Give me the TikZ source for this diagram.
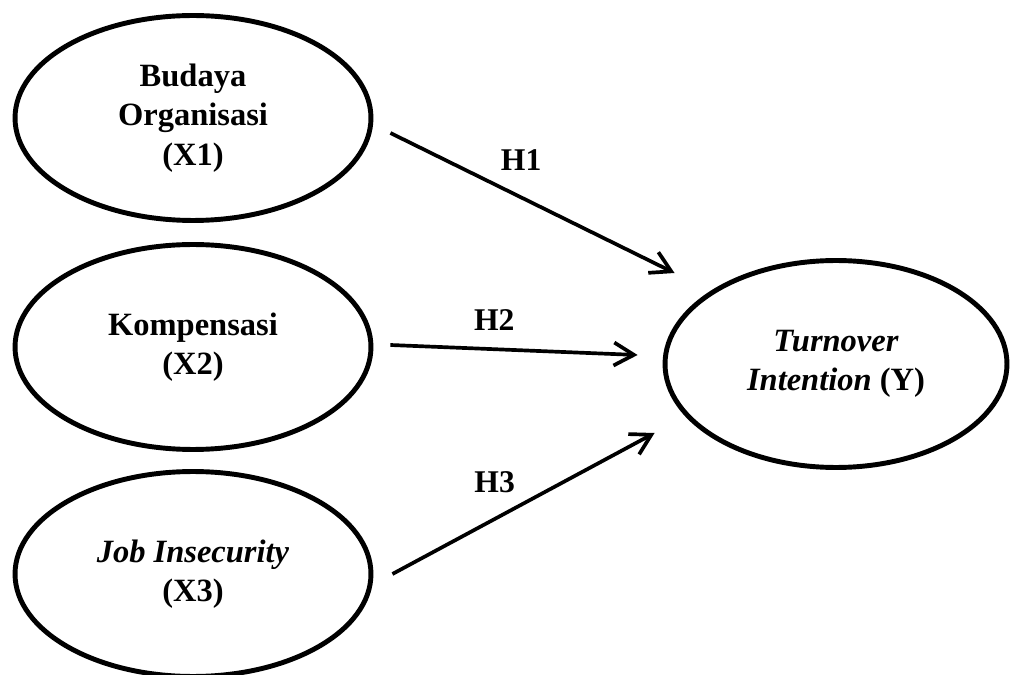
\documentclass[tikz,border=0pt]{standalone}
\usepackage{fontspec}
\setmainfont{Liberation Serif}
\usetikzlibrary{arrows.meta, positioning, shapes.geometric}

\begin{document}
\begin{tikzpicture}[
    x=0.02cm, y=-0.02cm,
    var/.style={draw, ellipse, line width=2.8pt, minimum width=7.12cm, minimum height=4.1cm, inner sep=0pt, align=center, font=\fontsize{18.5}{22.5}\selectfont\bfseries},
    hyp/.style={draw, -{Straight Barb[length=0.4cm, width=0.46cm]}, line width=2.1pt},
    lbl/.style={font=\fontsize{18}{20}\selectfont\bfseries, inner sep=1pt}
]
    \useasboundingbox (0,0) rectangle (1011,675);

    \node[var] (x1) at (193,118) {Budaya\\Organisasi\\(X1)};
    \node[var] (x2) at (193,347) {Kompensasi\\(X2)};
    \node[var] (x3) at (193,574) {\textit{Job Insecurity}\\(X3)};
    \node[var, minimum width=6.84cm, minimum height=4.14cm] (y) at (836,364) {\textit{Turnover}\\\textit{Intention} (Y)};

    \draw[hyp] ([shift={(17,15)}]x1.east) -- ([shift={(12,-91)}]y.west) node[lbl, pos=0.46, above=0.46cm] {H1};
    \draw[hyp] ([shift={(17,-2)}]x2.east) -- ([shift={(-25,-9)}]y.west) node[lbl, pos=0.42, above=0.3cm] {H2};
    \draw[hyp] ([shift={(19,0)}]x3.east) -- ([shift={(-8,69)}]y.west) node[lbl, pos=0.39, above=0.46cm] {H3};
\end{tikzpicture}
\end{document}
